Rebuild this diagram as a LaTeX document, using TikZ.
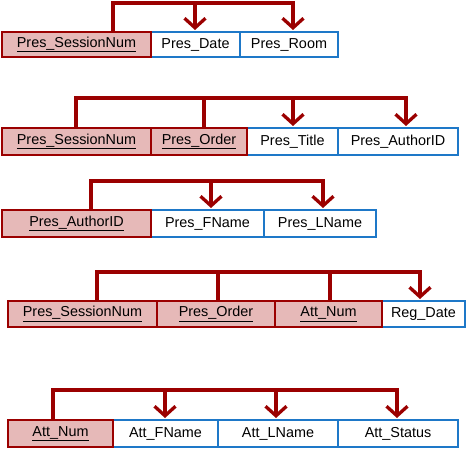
\documentclass[tikz,border=0pt]{standalone}
\usepackage{fontspec}
\setmainfont{Liberation Sans}
\usetikzlibrary{arrows.meta}
\definecolor{dred}{RGB}{155,0,0}
\definecolor{pinkf}{RGB}{230,185,184}
\definecolor{bblue}{RGB}{30,120,200}
\newcommand{\rbox}[7]{% style, name, x1, x2, yc, height, text
  \node[#1, minimum width={(#4-#3)*1pt}, minimum height={#6*1pt}] (#2) at ({(#3+#4)/2},#5) {#7};}
\begin{document}
\begin{tikzpicture}[x=1pt,y=-1pt,
  cell/.style={inner sep=0pt, outer sep=0pt, font=\fontsize{14.4}{16}\selectfont},
  keycell/.style={cell, draw=dred, fill=pinkf, line width=2pt},
  attcell/.style={cell, draw=bblue, fill=white, line width=1.8pt},
  fd/.style={draw=dred, line width=3.3pt},
  arr/.style={fd, -{Straight Barb[length=9.5pt, width=21pt]}, shorten >=2pt}]
\useasboundingbox (0,0) rectangle (474,449);

% Row 1
\rbox{attcell}{r1b}{151}{240}{44.5}{25}{Pres\_Date}
\rbox{attcell}{r1c}{240}{338}{44.5}{25}{Pres\_Room}
\rbox{keycell}{r1a}{2}{151}{44.5}{25}{\underline{Pres\_SessionNum}}
\coordinate (r1k) at (113,3);
\coordinate (r1p) at (195,3);
\coordinate (r1q) at (293,3);
\draw[arr] (r1k |- r1a.north) -- (r1k) -- (r1q) -- (r1q |- r1c.north);
\draw[arr] (r1p) -- (r1p |- r1b.north);

% Row 2
\rbox{attcell}{r2c}{247}{338}{141.5}{27}{Pres\_Title}
\rbox{attcell}{r2d}{338}{458}{141.5}{27}{Pres\_AuthorID}
\rbox{keycell}{r2a}{2}{151}{141.5}{27}{\underline{Pres\_SessionNum}}
\rbox{keycell}{r2b}{151}{247}{141.5}{27}{\underline{Pres\_Order}}
\coordinate (r2k) at (76,98);
\coordinate (r2l) at (204,98);
\coordinate (r2p) at (293,98);
\coordinate (r2q) at (406,98);
\draw[arr] (r2k |- r2a.north) -- (r2k) -- (r2q) -- (r2q |- r2d.north);
\draw[fd] (r2l |- r2b.north) -- (r2l);
\draw[arr] (r2p) -- (r2p |- r2c.north);

% Row 3
\rbox{attcell}{r3b}{151}{264}{223.5}{27}{Pres\_FName}
\rbox{attcell}{r3c}{264}{376}{223.5}{27}{Pres\_LName}
\rbox{keycell}{r3a}{2}{151}{223.5}{27}{\underline{Pres\_AuthorID}}
\coordinate (r3k) at (91,181);
\coordinate (r3p) at (211,181);
\coordinate (r3q) at (323,181);
\draw[arr] (r3k |- r3a.north) -- (r3k) -- (r3q) -- (r3q |- r3c.north);
\draw[arr] (r3p) -- (r3p |- r3b.north);

% Row 4
\rbox{attcell}{r4d}{382}{465}{314}{26}{Reg\_Date}
\rbox{keycell}{r4a}{8}{157}{314}{26}{\underline{Pres\_SessionNum}}
\rbox{keycell}{r4b}{157}{275}{314}{26}{\underline{Pres\_Order}}
\rbox{keycell}{r4c}{275}{382}{314}{26}{\underline{Att\_Num}}
\coordinate (r4k) at (97,272);
\coordinate (r4l) at (218,272);
\coordinate (r4m) at (330,272);
\coordinate (r4q) at (420,272);
\draw[arr] (r4k |- r4a.north) -- (r4k) -- (r4q) -- (r4q |- r4d.north);
\draw[fd] (r4l |- r4b.north) -- (r4l);
\draw[fd] (r4m |- r4c.north) -- (r4m);

% Row 5
\rbox{attcell}{r5b}{113}{218}{433.5}{27}{Att\_FName}
\rbox{attcell}{r5c}{218}{338}{433.5}{27}{Att\_LName}
\rbox{attcell}{r5d}{338}{458}{433.5}{27}{Att\_Status}
\rbox{keycell}{r5a}{8}{113}{433.5}{27}{\underline{Att\_Num}}
\coordinate (r5k) at (53,390);
\coordinate (r5p) at (165,390);
\coordinate (r5o) at (276,390);
\coordinate (r5q) at (397,390);
\draw[arr] (r5k |- r5a.north) -- (r5k) -- (r5q) -- (r5q |- r5d.north);
\draw[arr] (r5p) -- (r5p |- r5b.north);
\draw[arr] (r5o) -- (r5o |- r5c.north);
\end{tikzpicture}
\end{document}
